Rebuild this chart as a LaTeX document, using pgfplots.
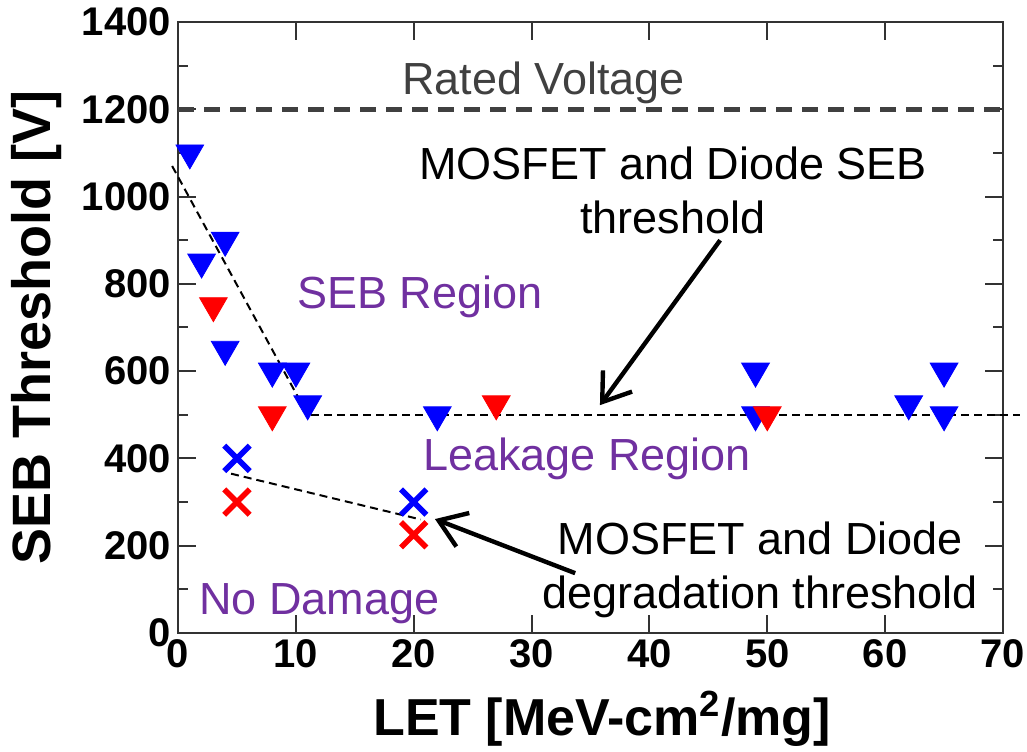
\documentclass[border=0pt]{standalone}
\usepackage{pgfplots}
\pgfplotsset{compat=1.18}
\usepackage{fontspec}
\setmainfont{Liberation Sans}
\usetikzlibrary{arrows.meta}
\definecolor{regpurple}{RGB}{112,48,160}
\definecolor{ratedgray}{RGB}{64,64,64}
\begin{document}
\begin{tikzpicture}
\begin{axis}[
 scale only axis, width=412.5pt, height=305.5pt,
 xmin=0, xmax=70, ymin=0, ymax=1400,
 xtick={0,10,...,70}, ytick={0,200,...,1400},
 minor ytick={100,300,...,1300},
 clip=false,
 axis line style={line width=1pt, black!80},
 major tick length=9pt, minor tick length=5pt,
 every tick/.style={black!80, line width=1pt},
 tick align=inside,
 /pgf/number format/assume math mode=true,
 /pgf/number format/1000 sep={},
 ticklabel style={font=\fontsize{20}{24}\selectfont\bfseries},
 xlabel={LET [MeV-cm\textsuperscript{2}/mg]},
 ylabel={SEB Threshold [V]},
 label style={font=\fontsize{26}{30}\selectfont\bfseries},
 xlabel style={at={(axis description cs:0.514,-0.167)}, anchor=base},
 ylabel style={at={(axis description cs:-0.172,0.5)}, anchor=center, font=\fontsize{27}{30}\selectfont\bfseries},
]
% blue triangles (SEB)
\addplot[only marks, mark=triangle*, mark size=8pt, color=blue,
  mark options={rotate=180, fill=blue, draw=blue}] coordinates {
 (1,1100) (2,850) (4,900) (4,650) (8,600) (10,600) (11,525) (22,500)
 (49,600) (49,500) (62,525) (65,600) (65,500)};
% red triangles (SEB)
\addplot[only marks, mark=triangle*, mark size=8pt, color=red,
  mark options={rotate=180, fill=red, draw=red}] coordinates {
 (3,750) (8,500) (27,525) (50,500)};
% blue crosses (degradation)
\addplot[only marks, mark=x, mark size=9pt, line width=2.8pt, color=blue] coordinates {
 (5,400) (20,300)};
% red crosses
\addplot[only marks, mark=x, mark size=9pt, line width=2.8pt, color=red] coordinates {
 (5,300) (20,225)};
% rated voltage
\addplot[ratedgray, line width=2.5pt, dash pattern=on 8pt off 5pt] coordinates {(0,1200) (70,1200)};
% SEB threshold lines
\addplot[black, line width=1pt, dash pattern=on 4pt off 2.5pt] coordinates {(-0.5,1070) (11,500)};
\addplot[black, line width=1pt, dash pattern=on 4pt off 2.5pt] coordinates {(11.3,500) (71.4,500)};
% degradation threshold line
\addplot[black, line width=1pt, dash pattern=on 4pt off 2.5pt] coordinates {(4.5,365) (20.6,260)};
% arrows
\draw[line width=2.2pt, -{Straight Barb[length=13pt, width=18pt, line width=2.2pt]}] (axis cs:46,900) -- (axis cs:35.8,522);
\draw[line width=2.2pt, -{Straight Barb[length=13pt, width=18pt, line width=2.2pt]}] (axis cs:33.7,137) -- (axis cs:21.8,261);
% texts
\node[font=\fontsize{22.5}{27}\selectfont, text=ratedgray] at (axis cs:31,1260) {Rated Voltage};
\node[font=\fontsize{22.5}{27}\selectfont, align=center] at (axis cs:42,1015) {MOSFET and Diode SEB\\threshold};
\node[font=\fontsize{22.5}{27}\selectfont, text=regpurple] at (axis cs:20.5,770) {SEB Region};
\node[font=\fontsize{22.5}{27}\selectfont, text=regpurple] at (axis cs:34.7,399) {Leakage Region};
\node[font=\fontsize{22.5}{27}\selectfont, text=regpurple] at (axis cs:12,66) {No Damage};
\node[font=\fontsize{22.5}{27}\selectfont, align=center] at (axis cs:49.4,144) {MOSFET and Diode\\degradation threshold};
\coordinate (bl) at (rel axis cs:-0.2158,-0.1948);
\coordinate (tr) at (rel axis cs:1.0291,1.036);
\end{axis}
\pgfresetboundingbox
\useasboundingbox (bl) rectangle (tr);
\end{tikzpicture}
\end{document}
